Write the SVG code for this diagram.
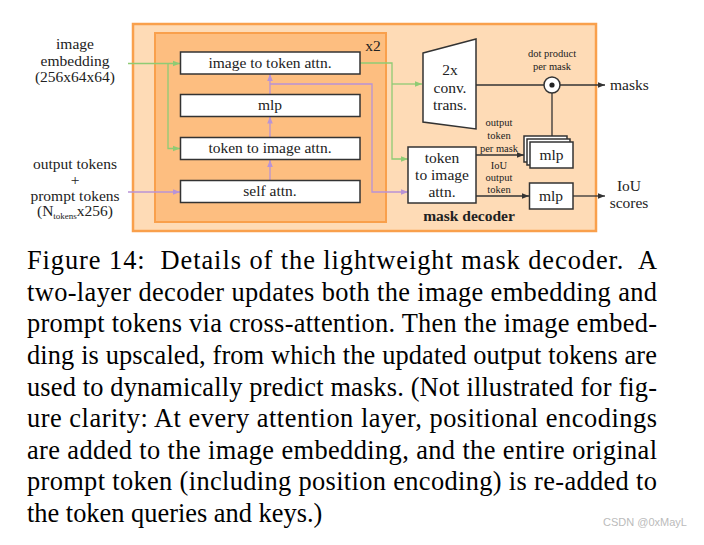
<svg xmlns="http://www.w3.org/2000/svg" width="704" height="545" viewBox="0 0 704 545">
<style>
.t{font-family:"Liberation Serif","Times New Roman",serif;font-size:15.5px;fill:#222;text-anchor:middle}
.ts{font-family:"Liberation Serif","Times New Roman",serif;font-size:15.5px;fill:#222;text-anchor:start}
.s{font-family:"Liberation Serif","Times New Roman",serif;font-size:10.5px;fill:#222;text-anchor:middle}
.b{fill:#fff;stroke:#333;stroke-width:1.5}
.g{fill:none;stroke:#8fcb74;stroke-width:1.3}
.p{fill:none;stroke:#b893d6;stroke-width:1.3}
.k{fill:none;stroke:#333;stroke-width:1.3}
.cap{font-family:"Liberation Serif","Times New Roman",serif;font-size:26.4px;fill:#000}
</style>
<defs>
<marker id="ag" viewBox="0 0 10 10" refX="10" refY="5" markerWidth="7" markerHeight="7" markerUnits="userSpaceOnUse" orient="auto"><path d="M0,1 L10,5 L0,9 z" fill="#8fcb74"/></marker>
<marker id="ap" viewBox="0 0 10 10" refX="10" refY="5" markerWidth="7" markerHeight="7" markerUnits="userSpaceOnUse" orient="auto"><path d="M0,1 L10,5 L0,9 z" fill="#b893d6"/></marker>
<marker id="ak" viewBox="0 0 10 10" refX="10" refY="5" markerWidth="7" markerHeight="7" markerUnits="userSpaceOnUse" orient="auto"><path d="M0,1 L10,5 L0,9 z" fill="#333"/></marker>
</defs>
<rect width="704" height="545" fill="#fff"/>

<g id="mask-decoder">
<rect x="133" y="24" width="463" height="207" fill="#fedbb6" stroke="#f9a04c" stroke-width="2.5"/>
<text class="t" x="469" y="221" font-weight="bold">mask decoder</text>
</g>
<g id="x2-block">
<rect x="155" y="33" width="231" height="189" fill="#fdbe80" stroke="#f9a04c" stroke-width="2"/>
<text class="t" x="373" y="51">x2</text>
</g>

<g id="inputs">
<text class="t" x="75" y="49">image</text>
<text class="t" x="75" y="65.5">embedding</text>
<text class="t" x="75" y="82">(256x64x64)</text>
<text class="t" x="75" y="169">output tokens</text>
<text class="t" x="75" y="184.5" font-size="11px">+</text>
<text class="t" x="75" y="200.5">prompt tokens</text>
<text class="t" x="75" y="216">(N<tspan font-size="9px" dy="3">tokens</tspan><tspan dy="-3">x256)</tspan></text>
</g>

<g id="connectors">
<path class="g" d="M128,63.5 H180" marker-end="url(#ag)"/>
<path class="g" d="M168,63.5 V148.5 H180" marker-end="url(#ag)"/>
<path class="g" d="M360,63 H392 V159 H408" marker-end="url(#ag)"/>
<path class="g" d="M392,84 H422" marker-end="url(#ag)"/>
<path class="p" d="M128,192 H180" marker-end="url(#ap)"/>
<path class="p" d="M270,180 V160" marker-end="url(#ap)"/>
<path class="p" d="M270,137 V116.5" marker-end="url(#ap)"/>
<path class="p" d="M270,94 V74" marker-end="url(#ap)"/>
<path class="p" d="M270,84 H372 V192 H408" marker-end="url(#ap)"/>
<path class="k" d="M476,85 H544"/>
<path class="k" d="M560,85 H605" marker-end="url(#ak)"/>
<path class="k" d="M552,93 V136"/>
<path class="k" d="M476,155 H524" marker-end="url(#ak)"/>
<path class="k" d="M476,196 H529" marker-end="url(#ak)"/>
<path class="k" d="M573,196 H605" marker-end="url(#ak)"/>
</g>

<g id="image-to-token-attn">
<rect class="b" x="180.5" y="52" width="179.5" height="22"/>
<text class="t" x="270" y="68">image to token attn.</text>
</g>
<g id="mlp-1">
<rect class="b" x="180.5" y="94.5" width="179.5" height="22"/>
<text class="t" x="270" y="110">mlp</text>
</g>
<g id="token-to-image-attn-1">
<rect class="b" x="180.5" y="137.5" width="179.5" height="22"/>
<text class="t" x="270" y="153">token to image attn.</text>
</g>
<g id="self-attn">
<rect class="b" x="180.5" y="180.5" width="179.5" height="22"/>
<text class="t" x="270" y="196">self attn.</text>
</g>

<g id="conv-trans">
<path class="b" d="M423,53 L476,39 L476,129 L423,122 Z"/>
<text class="t" x="450" y="74.5">2x</text>
<text class="t" x="450" y="92.5">conv.</text>
<text class="t" x="450" y="109.5">trans.</text>
</g>

<g id="token-to-image-attn-2">
<rect class="b" x="408" y="147" width="68" height="56"/>
<text class="t" x="442" y="163">token</text>
<text class="t" x="442" y="180">to image</text>
<text class="t" x="442" y="197">attn.</text>
</g>

<g id="dot-product">
<circle cx="552" cy="85" r="8" fill="#fff" stroke="#333" stroke-width="1.5"/>
<circle cx="552" cy="85" r="2.6" fill="#222"/>
<text class="s" x="552" y="57">dot product</text>
<text class="s" x="552" y="70">per mask</text>
</g>

<g id="mlp-stack">
<rect class="b" x="524" y="136" width="43" height="26"/>
<rect class="b" x="527" y="139" width="43" height="26"/>
<rect class="b" x="530" y="142" width="43" height="26"/>
<text class="t" x="551.5" y="160">mlp</text>
</g>
<g id="mlp-iou">
<rect class="b" x="529.5" y="183" width="43.5" height="26"/>
<text class="t" x="551" y="201">mlp</text>
</g>

<g id="labels">
<text class="s" x="499" y="125.5">output</text>
<text class="s" x="499" y="138.5">token</text>
<text class="s" x="499" y="151.5">per mask</text>
<text class="s" x="499" y="168.5">IoU</text>
<text class="s" x="499" y="181">output</text>
<text class="s" x="499" y="193">token</text>
</g>

<g id="outputs">
<text class="ts" x="610" y="90">masks</text>
<text class="t" x="629" y="191">IoU</text>
<text class="t" x="629" y="208">scores</text>
</g>

<g id="caption">
<text class="cap" x="27" y="269" textLength="630" lengthAdjust="spacing" xml:space="preserve">Figure 14:  Details of the lightweight mask decoder.  A</text>
<text class="cap" x="27" y="300.6" textLength="630" lengthAdjust="spacing">two-layer decoder updates both the image embedding and</text>
<text class="cap" x="27" y="332.3" textLength="630" lengthAdjust="spacing">prompt tokens via cross-attention. Then the image embed-</text>
<text class="cap" x="27" y="363.9" textLength="630" lengthAdjust="spacing">ding is upscaled, from which the updated output tokens are</text>
<text class="cap" x="27" y="395.5" textLength="630" lengthAdjust="spacing">used to dynamically predict masks. (Not illustrated for fig-</text>
<text class="cap" x="27" y="427.1" textLength="630" lengthAdjust="spacing">ure clarity: At every attention layer, positional encodings</text>
<text class="cap" x="27" y="458.8" textLength="630" lengthAdjust="spacing">are added to the image embedding, and the entire original</text>
<text class="cap" x="27" y="490.4" textLength="630" lengthAdjust="spacing">prompt token (including position encoding) is re-added to</text>
<text class="cap" x="27" y="522">the token queries and keys.)</text>
</g>
<text x="603" y="526" font-family="'Liberation Sans',Arial,sans-serif" font-size="11px" fill="#bbb">CSDN @0xMayL</text>
</svg>
